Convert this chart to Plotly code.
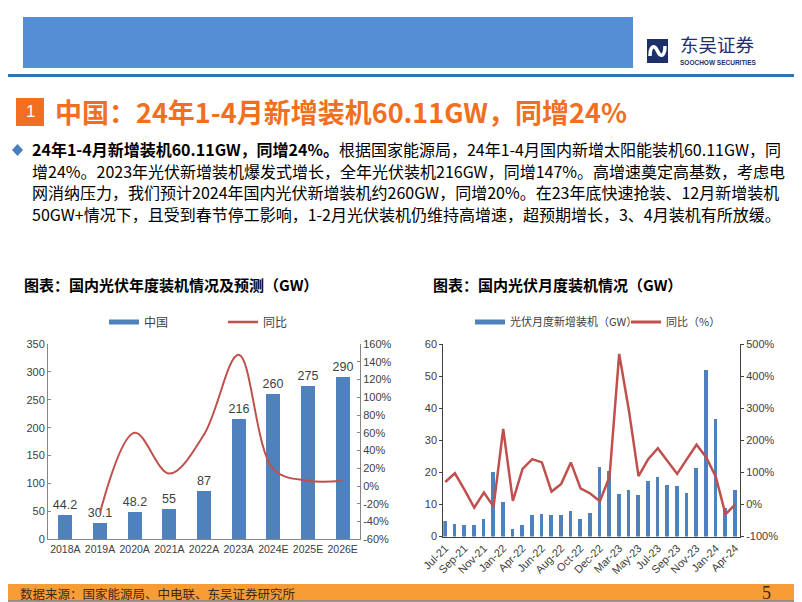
import plotly.graph_objects as go

# ---- 年度数据 ----
years = ['2018A', '2019A', '2020A', '2021A', '2022A', '2023A', '2024E', '2025E', '2026E']
china_gw = [44.2, 30.1, 48.2, 55, 87, 216, 260, 275, 290]
china_yoy = [None, -30, 60, 14, 58, 148, 19, 6, 6]  # %

annual_left_ticks = [0, 50, 100, 150, 200, 250, 300, 350]
annual_right_ticks = [-60, -40, -20, 0, 20, 40, 60, 80, 100, 120, 140, 160]

# ---- 月度数据 ----
months = ['Jul-21', 'Aug-21', 'Sep-21', 'Oct-21', 'Nov-21', 'Dec-21', 'Jan-22', 'Mar-22',
          'Apr-22', 'May-22', 'Jun-22', 'Jul-22', 'Aug-22', 'Sep-22', 'Oct-22', 'Nov-22',
          'Dec-22', 'Jan-23', 'Mar-23', 'Apr-23', 'May-23', 'Jun-23', 'Jul-23', 'Aug-23',
          'Sep-23', 'Oct-23', 'Nov-23', 'Dec-23', 'Jan-24', 'Mar-24', 'Apr-24']
monthly_gw = [4.8, 4.0, 3.5, 3.6, 5.4, 20.0, 10.8, 2.3, 3.6, 6.8, 7.1, 6.8, 6.7, 8.0, 5.6, 7.4,
              21.7, 20.4, 13.2, 14.6, 12.9, 17.2, 18.7, 16.0, 15.7, 13.6, 21.3, 51.9, 36.7, 9.0, 14.4]
monthly_yoy = [70, 97, 45, -10, 37, -7, 235, 11, 111, 141, 131, 40, 64, 131, 50, 34,
               10, 86, 469, 294, 88, 141, 175, 135, 95, 141, 186, 147, 86, -31, 0]  # %
month_ticks = months[::2]

monthly_left_ticks = [0, 10, 20, 30, 40, 50, 60]
monthly_right_ticks = [-100, 0, 100, 200, 300, 400, 500]

body_lines = [
    '<b>24年1-4月新增装机60.11GW，同增24%。</b>根据国家能源局，24年1-4月国内新增太阳能装机60.11GW，同',
    '增24%。2023年光伏新增装机爆发式增长，全年光伏装机216GW，同增147%。高增速奠定高基数，考虑电',
    '网消纳压力，我们预计2024年国内光伏新增装机约260GW，同增20%。在23年底快速抢装、12月新增装机',
    '50GW+情况下，且受到春节停工影响，1-2月光伏装机仍维持高增速，超预期增长，3、4月装机有所放缓。',
]

# 页面默认有 8px 边距，图内坐标按页面像素减去偏移
OX, OY = 8, 8
W, H = 794, 594
BLUE = '#4f81bd'
RED = '#c0504d'
ORANGE = '#f26f21'
CJK = 'Noto Sans CJK SC'
NUM = 'Liberation Sans, Arial, Noto Sans CJK SC'


def px(x):
    return (x - OX) / W


def py(y):
    return 1 - (y - OY) / H


fig = go.Figure()

# 年度图
fig.add_trace(go.Bar(
    x=years, y=china_gw, marker_color=BLUE, width=0.4, showlegend=False,
    text=[f'{v:g}' for v in china_gw], textposition='outside', cliponaxis=False,
    constraintext='none', textfont=dict(size=12.5, color='#404040', family=NUM),
    xaxis='x', yaxis='y'
))
fig.add_trace(go.Scatter(
    x=years, y=china_yoy, mode='lines', line=dict(color=RED, width=2, shape='spline', smoothing=1),
    showlegend=False, xaxis='x', yaxis='y2'
))
# 月度图
fig.add_trace(go.Bar(
    x=months, y=monthly_gw, marker_color=BLUE, width=0.38, showlegend=False,
    xaxis='x2', yaxis='y3'
))
fig.add_trace(go.Scatter(
    x=months, y=monthly_yoy, mode='lines', line=dict(color=RED, width=2.5),
    showlegend=False, xaxis='x2', yaxis='y4'
))

# 图例条目
legend_items = [
    ('中国', BLUE, 5, 'legend'),
    ('同比', RED, 2.5, 'legend2'),
    ('光伏月度新增装机（GW）', BLUE, 5, 'legend3'),
    ('同比（%）', RED, 3, 'legend4'),
]
for name, color, lw, lg in legend_items:
    fig.add_trace(go.Scatter(x=[None], y=[None], mode='lines', name=name,
                             line=dict(color=color, width=lw), legend=lg,
                             xaxis='x', yaxis='y'))

legend_pos = {'legend': (104, 322, 12), 'legend2': (223, 322, 12),
              'legend3': (470, 322, 11), 'legend4': (626, 322, 11)}
legend_cfg = {}
for key, (lx, ly, fs) in legend_pos.items():
    legend_cfg[key] = dict(x=px(lx), y=py(ly), xanchor='left', yanchor='middle',
                           bgcolor='rgba(0,0,0,0)', font=dict(size=fs, family=CJK, color='#404040'),
                           itemwidth=30, tracegroupgap=0)

y_font = dict(size=11, family=NUM, color='#404040')
x_font = dict(size=10.5, family=NUM, color='#404040')

fig.update_layout(
    template='none',
    width=W, height=H,
    margin=dict(l=0, r=0, t=0, b=0, autoexpand=False),
    paper_bgcolor='white', plot_bgcolor='rgba(0,0,0,0)',
    bargap=0,
    xaxis=dict(domain=[px(48), px(360)], anchor='y', type='category', range=[-0.5, 8.5],
               showline=True, linecolor='#868686', linewidth=1, ticks='', tickangle=0,
               tickfont=x_font, showgrid=False, automargin=False),
    yaxis=dict(domain=[py(539.3), py(344)], anchor='x', range=[0, 350],
               tickvals=annual_left_ticks, ticktext=[str(v) for v in annual_left_ticks],
               showline=True, linecolor='#868686', ticks='inside', ticklen=3, tickcolor='#868686',
               tickfont=y_font, showgrid=False, zeroline=False, automargin=False),
    yaxis2=dict(overlaying='y', side='right', anchor='x', range=[-60, 160],
                tickvals=annual_right_ticks, ticktext=[f'{v}%' for v in annual_right_ticks],
                showline=True, linecolor='#868686', ticks='inside', ticklen=3, tickcolor='#868686',
                tickfont=y_font, showgrid=False, zeroline=False, automargin=False),
    xaxis2=dict(domain=[px(443.3), px(740)], anchor='y3', type='category', range=[-0.2, 30.5],
                tickvals=month_ticks, ticktext=month_ticks, tickangle=-45,
                showline=True, linecolor='#404040', ticks='', tickfont=dict(size=11, family=NUM, color='#404040'),
                showgrid=False, automargin=False),
    yaxis3=dict(domain=[py(536.5), py(344)], anchor='x2', range=[0, 60],
                tickvals=monthly_left_ticks, ticktext=[str(v) for v in monthly_left_ticks],
                showline=True, linecolor='#404040', ticks='outside', ticklen=3, tickcolor='#404040',
                tickfont=y_font, showgrid=False, zeroline=False, automargin=False),
    yaxis4=dict(overlaying='y3', side='right', anchor='x2', range=[-100, 500],
                tickvals=monthly_right_ticks, ticktext=[f'{v}%' for v in monthly_right_ticks],
                showline=True, linecolor='#404040', ticks='outside', ticklen=3, tickcolor='#404040',
                tickfont=y_font, showgrid=False, zeroline=False, automargin=False),
    **legend_cfg,
)

shapes = []
# 页面边框
shapes.append(dict(type='rect', xref='paper', yref='paper', x0=px(0.5), x1=px(800.8), y0=py(600.8), y1=py(0.5),
                   line=dict(color='#8c8c8c', width=1.5), layer='above'))
# 顶部蓝色框
shapes.append(dict(type='rect', xref='paper', yref='paper', x0=px(23), x1=px(633), y0=py(68), y1=py(17),
                   fillcolor='#558ed5', line=dict(width=0), layer='below'))
# 蓝色分隔线
shapes.append(dict(type='rect', xref='paper', yref='paper', x0=px(0), x1=px(802), y0=py(77), y1=py(74),
                   fillcolor='#2e75b6', line=dict(width=0), layer='below'))
# 标志
shapes.append(dict(type='rect', xref='paper', yref='paper', x0=px(647), x1=px(668), y0=py(63), y1=py(39),
                   fillcolor='#1c2f6b', line=dict(width=0), layer='below'))
shapes.append(dict(type='path', xref='paper', yref='paper',
                   path=f'M {px(650)},{py(56)} C {px(650)},{py(47)} {px(654)},{py(43)} {px(657.5)},{py(51)} '
                        f'C {px(661)},{py(59)} {px(665)},{py(55)} {px(665)},{py(46)}',
                   line=dict(color='white', width=3.5), layer='below'))
# 橙色编号框
shapes.append(dict(type='rect', xref='paper', yref='paper', x0=px(16), x1=px(44), y0=py(126), y1=py(98),
                   fillcolor=ORANGE, line=dict(width=0), layer='below'))
# 菱形项目符号
shapes.append(dict(type='path', xref='paper', yref='paper',
                   path=f'M {px(12)},{py(150)} L {px(17.5)},{py(144)} L {px(23)},{py(150)} L {px(17.5)},{py(156)} Z',
                   fillcolor='#4a7ebb', line=dict(width=0), layer='below'))
# 底部橙色条
shapes.append(dict(type='rect', xref='paper', yref='paper', x0=px(0), x1=px(802), y0=py(602), y1=py(584),
                   fillcolor='#f89c35', line=dict(width=0), layer='below'))
fig.update_layout(shapes=shapes)

ann = []


def add_text(x, y, text, size, color='#000000', family=CJK, xanchor='left', pad=1):
    ann.append(dict(xref='paper', yref='paper', x=px(x), y=py(y), text=text, showarrow=False,
                    xanchor=xanchor, yanchor='middle', align='left', borderpad=pad,
                    font=dict(size=size, color=color, family=family)))


add_text(30, 112, '1', 17, 'white', 'Liberation Sans', 'center')
add_text(53, 112, '<b>中国：24年1-4月新增装机60.11GW，同增24%</b>', 27, ORANGE)
for i, line in enumerate(body_lines):
    add_text(31, 149 + i * 21.6, line, 16, '#000000', pad=0)
add_text(22, 285, '<b>图表：国内光伏年度装机情况及预测（GW）</b>', 15, '#000000')
add_text(431, 285, '<b>图表：国内光伏月度装机情况（GW）</b>', 15, '#000000')
add_text(18, 593, '数据来源：国家能源局、中电联、东吴证券研究所', 12.5, '#3a2a1a')
add_text(766, 593, '5', 18, '#3a2a1a', 'Liberation Serif', 'center')
add_text(678, 44.5, '东吴证券', 18.5, '#1c2f6b')
add_text(678, 62, '<b>SOOCHOW SECURITIES</b>', 6.5, '#1c2f6b', 'Liberation Sans Narrow, Liberation Sans')
fig.update_layout(annotations=ann)

fig.write_html('out.html')
